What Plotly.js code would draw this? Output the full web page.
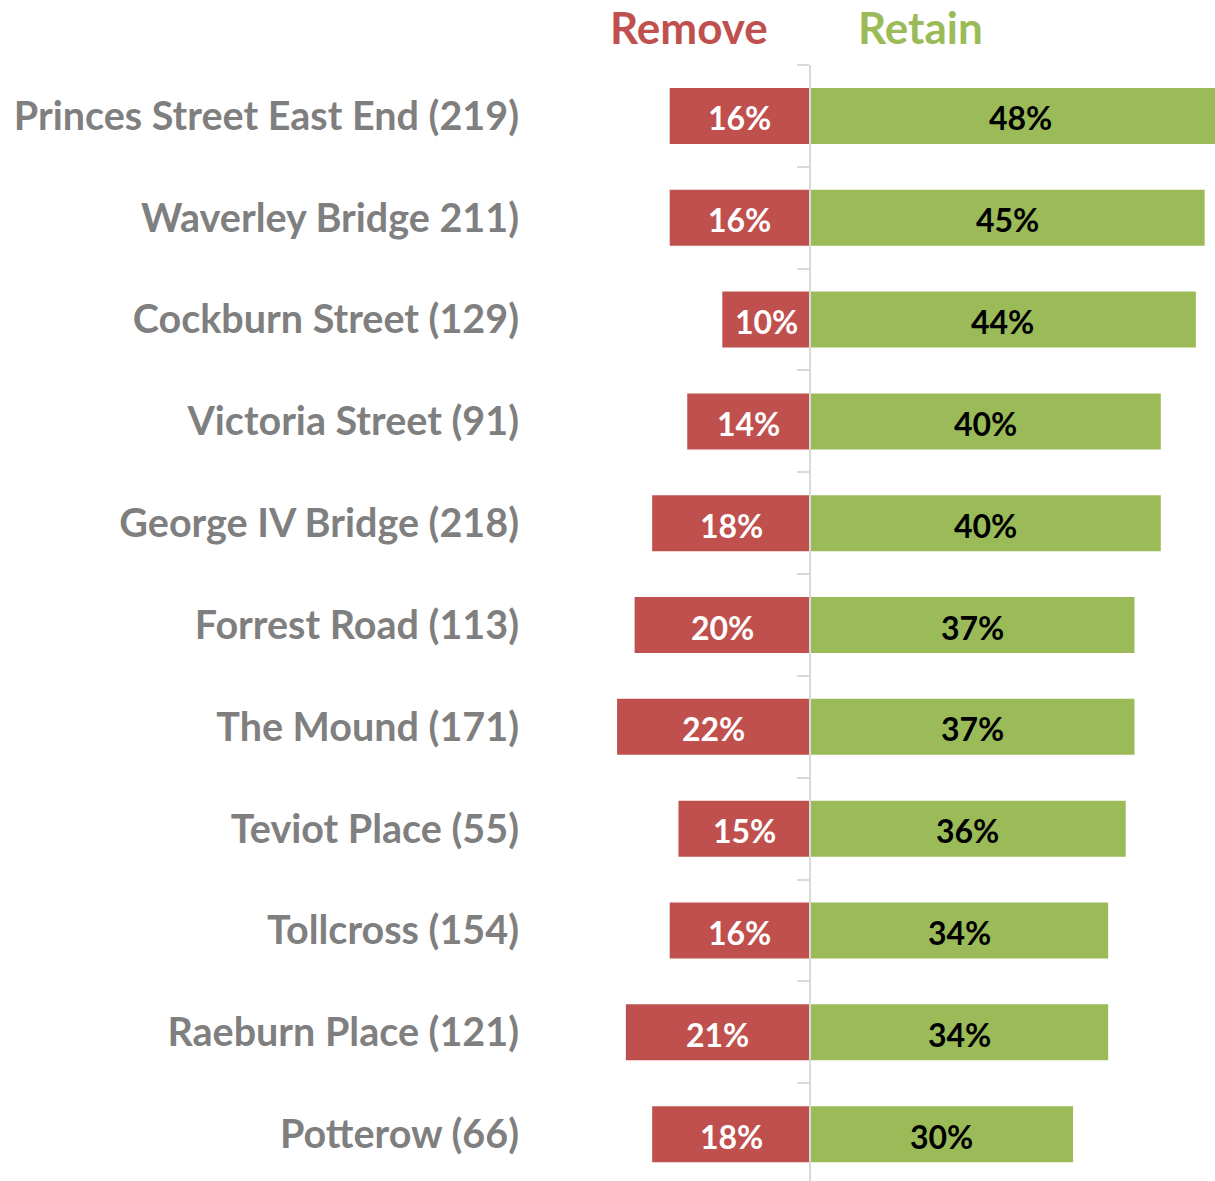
<!DOCTYPE html>
<html>
<head>
<meta charset="utf-8">
<script src="https://cdn.plot.ly/plotly-3.0.1.min.js"></script>
<style>html,body{margin:0;padding:0;background:#fff;}#chart{width:1215px;height:1181px;}</style>
</head>
<body>
<div id="chart"></div>
<script>
const categories = [
  "Princes Street East End (219)",
  "Waverley Bridge 211)",
  "Cockburn Street (129)",
  "Victoria Street (91)",
  "George IV Bridge (218)",
  "Forrest Road (113)",
  "The Mound (171)",
  "Teviot Place (55)",
  "Tollcross (154)",
  "Raeburn Place (121)",
  "Potterow (66)"
];
const removePct = [16, 16, 10, 14, 18, 20, 22, 15, 16, 21, 18];
const retainPct = [48, 45, 44, 40, 40, 37, 37, 36, 34, 34, 30];

const RED = "#c0504d", GREEN = "#9bbb59", GRAY = "#7f7f7f", LINE = "#d9d9d9";
const FONT = "Lato, 'Open Sans', sans-serif";

const xMin = -31.93, xMax = 46.18;
const zeroPos = (0 - xMin) / (xMax - xMin);
const yRange = [10.46, -0.5];

const traces = [
  {type: "bar", orientation: "h", y: categories, x: removePct.map(v => -v),
   marker: {color: RED}, width: 0.55, hoverinfo: "skip", showlegend: false},
  {type: "bar", orientation: "h", y: categories, x: retainPct,
   marker: {color: GREEN}, width: 0.55, hoverinfo: "skip", showlegend: false},
  {type: "scatter", mode: "markers", y: categories, x: categories.map(() => 0),
   yaxis: "y2", marker: {opacity: 0}, hoverinfo: "skip", showlegend: false}
];

const barLabels = [];
categories.forEach((c, i) => {
  barLabels.push({x: -removePct[i] / 2, y: c, xref: "x", yref: "y", text: removePct[i] + "%",
    showarrow: false, xanchor: "center", yanchor: "middle", yshift: -2,
    font: {family: FONT, size: 32, color: "#ffffff", weight: "bold"}});
  barLabels.push({x: retainPct[i] / 2, y: c, xref: "x", yref: "y", text: retainPct[i] + "%",
    showarrow: false, xanchor: "center", yanchor: "middle", yshift: -2,
    font: {family: FONT, size: 32, color: "#000000", weight: "bold"}});
});

const titleY = 1 + 65 / 1116;

const layout = {
  width: 1215, height: 1181,
  margin: {l: 530, r: 0, t: 65, b: 0},
  paper_bgcolor: "#ffffff", plot_bgcolor: "#ffffff",
  barmode: "overlay",
  xaxis: {range: [xMin, xMax], showgrid: false, zeroline: false, showticklabels: false, fixedrange: true},
  yaxis: {type: "category", categoryarray: categories, categoryorder: "array", range: yRange,
          showgrid: false, zeroline: false, showline: false, ticks: "",
          ticklabelstandoff: 10,
          tickfont: {family: FONT, size: 39.5, color: GRAY, weight: "bold"}},
  yaxis2: {type: "category", categoryarray: categories, categoryorder: "array", range: yRange,
           overlaying: "y", anchor: "free", position: zeroPos, side: "left",
           showgrid: false, zeroline: false, showline: true, linecolor: LINE, linewidth: 2,
           ticks: "outside", tickson: "boundaries", ticklen: 12, tickcolor: LINE, tickwidth: 2,
           showticklabels: false},
  annotations: barLabels.concat([
    {xref: "paper", yref: "paper", x: (689 - 530) / 685, y: titleY, text: "Remove",
     showarrow: false, xanchor: "center", yanchor: "top", borderpad: 0,
     font: {family: FONT, size: 44, color: RED, weight: "bold"}},
    {xref: "paper", yref: "paper", x: (920 - 530) / 685, y: titleY, text: "Retain",
     showarrow: false, xanchor: "center", yanchor: "top", borderpad: 0,
     font: {family: FONT, size: 44, color: GREEN, weight: "bold"}}
  ])
};

Plotly.newPlot("chart", traces, layout, {displayModeBar: false, staticPlot: true});
</script>
</body>
</html>
